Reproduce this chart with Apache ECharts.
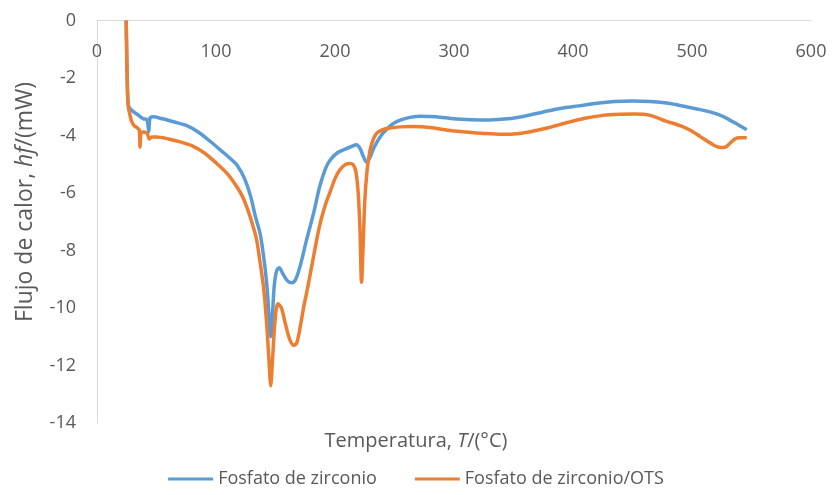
<!DOCTYPE html>
<html>
<head>
<meta charset="utf-8">
<script src="https://cdn.jsdelivr.net/npm/echarts@6/dist/echarts.min.js"></script>
<style>
html,body{margin:0;padding:0;background:#fff;}
#chart{width:832px;height:495px;}
</style>
</head>
<body>
<div id="chart"></div>
<script>
const seriesNames = ['Fosfato de zirconio', 'Fosfato de zirconio/OTS'];
const xTicks = [0, 100, 200, 300, 400, 500, 600];
const yTicks = [0, -2, -4, -6, -8, -10, -12, -14];

const zrT = [24.5,25,25.5,26,27,30,35,39,42,43.5,44.5,47,55,65,75,85,95,105,112,118,124,129,133,137,140,142.5,144.5,146,147.5,149,151,153.2,156,160,164,167,171,176,182,187,192,196,202,208,214,218,221,224,226.5,229,233,238,243,249,256,263,272,285,300,315,330,345,360,375,390,405,420,435,450,465,480,495,507,515,524,530,536,541,546];
const zrHf = [0,-1.2,-2.3,-2.8,-3.02,-3.15,-3.3,-3.42,-3.45,-3.87,-3.4,-3.35,-3.42,-3.53,-3.65,-3.88,-4.2,-4.55,-4.8,-5.05,-5.5,-6.1,-6.8,-7.4,-8.2,-9.1,-10.2,-11.0,-10.2,-9.2,-8.7,-8.6,-8.8,-9.05,-9.12,-9.0,-8.5,-7.65,-6.7,-5.8,-5.15,-4.85,-4.6,-4.48,-4.38,-4.32,-4.45,-4.75,-4.92,-4.8,-4.4,-4.04,-3.8,-3.58,-3.45,-3.37,-3.33,-3.35,-3.42,-3.45,-3.46,-3.42,-3.32,-3.18,-3.05,-2.97,-2.88,-2.82,-2.8,-2.82,-2.88,-3.0,-3.1,-3.18,-3.3,-3.42,-3.56,-3.68,-3.8];

const otsT = [24.5,25,25.6,26.3,27.5,29,31,34,35.5,36.2,37,39,42,44,46,50,60,70,80,90,100,110,117,122,126,130,134,137,140,142.5,144.5,146,147.5,149.5,152,155,158,162,165.5,168,171,174,177,182,187,192,196,200,204,208,212,215,217.5,219.5,221,222.3,223.5,225,227,229.5,232,235,240,246,255,265,280,295,310,325,340,355,365,380,395,410,425,440,452,465,478,490,500,507,513,518,522,526,529,532,536,540,546];
const otsHf = [0,-1.2,-2.4,-3.0,-3.25,-3.5,-3.65,-3.74,-3.8,-4.4,-3.9,-3.88,-3.92,-4.12,-4.05,-4.05,-4.12,-4.22,-4.36,-4.6,-4.95,-5.35,-5.75,-6.1,-6.5,-7.0,-7.6,-8.4,-9.3,-10.5,-11.8,-12.7,-11.8,-10.5,-9.85,-10.0,-10.5,-11.1,-11.3,-11.2,-10.6,-9.9,-9.3,-8.2,-7.15,-6.4,-5.95,-5.5,-5.2,-5.03,-4.97,-5.0,-5.25,-6.0,-7.3,-9.1,-8.0,-6.3,-5.2,-4.5,-4.15,-3.92,-3.8,-3.74,-3.7,-3.69,-3.72,-3.82,-3.88,-3.93,-3.96,-3.93,-3.86,-3.72,-3.55,-3.4,-3.3,-3.26,-3.25,-3.3,-3.5,-3.66,-3.85,-4.04,-4.2,-4.33,-4.4,-4.42,-4.38,-4.27,-4.12,-4.08,-4.08];

const FONT = '"Open Sans", "Noto Sans", sans-serif';
const GREY = '#595959';
const pair = (xs, ys) => xs.map((x, i) => [x, ys[i]]);

const chart = echarts.init(document.getElementById('chart'), null, {renderer: 'canvas'});
chart.setOption({
  animation: false,
  backgroundColor: '#ffffff',
  title: {
    text: 'Temperatura, {i|T}/(°C)',
    left: 'center',
    top: 426,
    textStyle: {
      fontFamily: FONT, fontSize: 20, fontWeight: 'normal', color: GREY,
      rich: { i: { fontFamily: FONT, fontSize: 20, fontStyle: 'italic', color: GREY } }
    }
  },
  graphic: [{
    type: 'text',
    x: 25, y: 202,
    rotation: Math.PI / 2,
    style: {
      text: 'Flujo de calor, {i|hf}/(mW)',
      fontFamily: FONT, fontSize: 23, fill: GREY,
      align: 'center', verticalAlign: 'middle',
      rich: { i: { fontFamily: FONT, fontSize: 23, fontStyle: 'italic', fill: GREY } }
    }
  }],
  grid: { left: 97, right: 21, top: 20.5, bottom: 72, containLabel: false },
  legend: {
    bottom: 2,
    left: 'center',
    icon: 'rect',
    itemWidth: 45,
    itemHeight: 3,
    itemGap: 38,
    textStyle: { fontFamily: FONT, fontSize: 18, color: GREY },
    data: seriesNames
  },
  xAxis: {
    type: 'value',
    position: 'top',
    min: xTicks[0], max: xTicks[xTicks.length - 1], interval: 100,
    axisLine: { onZero: false, lineStyle: { color: '#d9d9d9', width: 1 } },
    axisTick: { show: false },
    splitLine: { show: false },
    axisLabel: { inside: true, margin: 22, fontFamily: FONT, fontSize: 18, color: GREY }
  },
  yAxis: {
    type: 'value',
    min: yTicks[yTicks.length - 1], max: yTicks[0], interval: 2,
    axisLine: { show: true, onZero: false, lineStyle: { color: '#d9d9d9', width: 1 } },
    axisTick: { show: false },
    splitLine: { show: false },
    axisLabel: { margin: 21, fontFamily: FONT, fontSize: 18, color: GREY }
  },
  series: [
    {
      name: seriesNames[0], type: 'line', data: pair(zrT, zrHf),
      showSymbol: false, smooth: 0.3, clip: true,
      lineStyle: { color: '#5B9BD5', width: 3.5 }, itemStyle: { color: '#5B9BD5' }
    },
    {
      name: seriesNames[1], type: 'line', data: pair(otsT, otsHf),
      showSymbol: false, smooth: 0.3, clip: true,
      lineStyle: { color: '#ED7D31', width: 3.5 }, itemStyle: { color: '#ED7D31' }
    }
  ]
});
</script>
</body>
</html>
